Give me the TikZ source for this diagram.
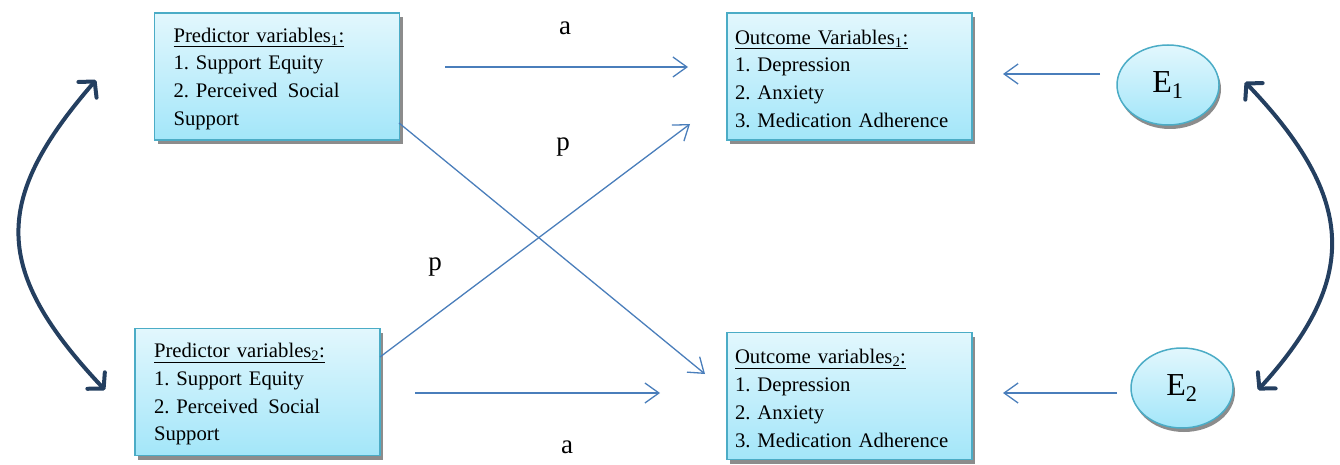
\documentclass[tikz,border=0pt]{standalone}
\usepackage{fontspec}
\setmainfont{Liberation Serif}
\usetikzlibrary{arrows.meta,shadows,shapes.geometric}
\definecolor{boxborder}{HTML}{4BACC6}
\definecolor{boxtop}{HTML}{E2F7FD}
\definecolor{boxbot}{HTML}{A3E6F9}
\definecolor{linkblue}{HTML}{4A7EBB}
\definecolor{navy}{HTML}{243F60}
\newcommand{\toprule}{\rule{0pt}{19pt}}
\begin{document}
\frenchspacing
\begin{tikzpicture}[x=1pt,y=-1pt,
  varbox/.style={draw=boxborder,line width=1.5pt,top color=boxtop,bottom color=boxbot,
    minimum width=245pt,minimum height=127pt,align=left,inner sep=0pt,
    font=\fontsize{20.7}{27.8}\selectfont,
    drop shadow={shadow xshift=3pt,shadow yshift=-4pt,fill=black!45,opacity=1}},
  predbox/.style={varbox,text width=207pt},
  outbox/.style={varbox,text width=229pt},
  errnode/.style={ellipse,draw=boxborder,line width=1.5pt,top color=boxtop,bottom color=boxbot,
    minimum width=102pt,minimum height=80pt,inner sep=0pt,font=\fontsize{32}{32}\selectfont,
    drop shadow={shadow xshift=2pt,shadow yshift=-4pt,fill=black!45,opacity=1}},
  linkarrow/.style={draw=linkblue,line width=1.3pt,-{Straight Barb[length=14pt,width=20pt]}},
  cov/.style={draw=navy,line width=4pt,line cap=round,
    {Straight Barb[length=11pt,width=24pt,round]}-{Straight Barb[length=11pt,width=24pt,round]}},
  lab/.style={font=\fontsize{27}{27}\selectfont,inner sep=0pt}]
\useasboundingbox (0,0) rectangle (1340,465);

\node[predbox] (p1) at (277,76.5) {\toprule\underline{Predictor variables\textsubscript{1}:}\\1. Support Equity\\2. Perceived\, Social\\Support};
\node[outbox] (o1) at (849.5,76.5) {\toprule\underline{Outcome Variables\textsubscript{1}:}\\1. Depression\\2. Anxiety\\3. Medication Adherence};
\node[predbox] (p2) at (257.5,392) {\toprule\underline{Predictor variables\textsubscript{2}:}\\1. Support Equity\\2. Perceived\, Social\\Support};
\node[outbox] (o2) at (849.5,396) {\toprule\underline{Outcome variables\textsubscript{2}:}\\1. Depression\\2. Anxiety\\3. Medication Adherence};

\node[errnode] (e1) at (1168,85) {E\textsubscript{1}};
\node[errnode] (e2) at (1182,388) {E\textsubscript{2}};

\coordinate (a1s) at (445,67);  \coordinate (a1e) at (688,67);
\coordinate (a2s) at (415,393); \coordinate (a2e) at (660,393);
\coordinate (x1s) at (399,123); \coordinate (x1e) at (705,374);
\coordinate (x2s) at (380,357); \coordinate (x2e) at (690,124);
\coordinate (e1s) at (1100,74); \coordinate (e1e) at (1003,74);
\coordinate (e2s) at (1117,393); \coordinate (e2e) at (1003,393);

\draw[linkarrow] (a1s) -- (a1e);
\draw[linkarrow] (a2s) -- (a2e);
\draw[linkarrow] (x1s) -- (x1e);
\draw[linkarrow] (x2s) -- (x2e);
\draw[linkarrow] (e1s) -- (e1e);
\draw[linkarrow] (e2s) -- (e2e);

\node[lab] (la1) at (565,28) {a};
\node[lab] (lp1) at (563,147) {p};
\node[lab] (lp2) at (435,267) {p};
\node[lab] (la2) at (567,447) {a};

\coordinate (c1t) at (96,80);  \coordinate (c1b) at (105,390);
\coordinate (c2t) at (1245,82); \coordinate (c2b) at (1258,390);
\draw[cov] (c1t) .. controls (-8,200) and (-8,270) .. (c1b);
\draw[cov] (c2t) .. controls (1358,200) and (1358,280) .. (c2b);
\end{tikzpicture}
\end{document}
